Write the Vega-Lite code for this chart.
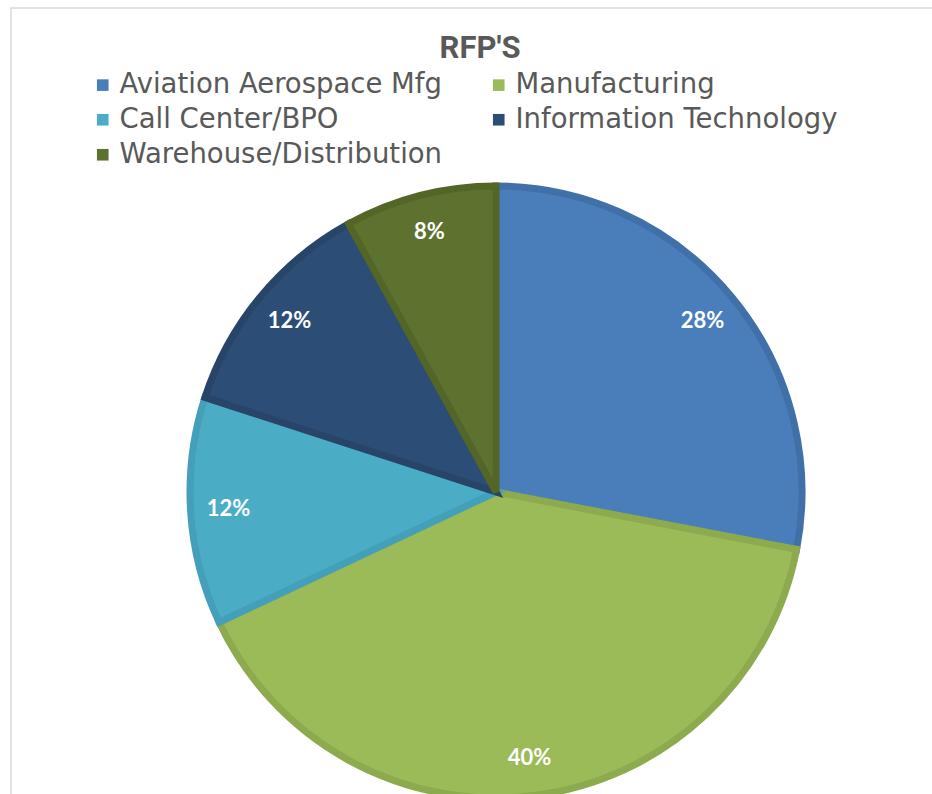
{
  "$schema": "https://vega.github.io/schema/vega-lite/v6.json",
  "autosize": "none",
  "padding": {"left": 11, "top": 8, "right": 0, "bottom": 0},
  "width": 970,
  "height": 968,
  "background": "white",
  "view": {"stroke": "#d9d9d9", "strokeWidth": 1.5},
  "title": {
    "text": "RFP'S",
    "font": "Roboto",
    "fontSize": 31,
    "fontWeight": "bold",
    "color": "#595959",
    "anchor": "middle",
    "frame": "group",
    "baseline": "middle",
    "offset": -39,
    "dx": -16,
    "dy": 33
  },
  "data": {
    "values": [
      {"category": "Aviation Aerospace Mfg", "share": 0.28, "pos": 1},
      {"category": "Manufacturing", "share": 0.40, "pos": 2},
      {"category": "Call Center/BPO", "share": 0.12, "pos": 3},
      {"category": "Information Technology", "share": 0.12, "pos": 4},
      {"category": "Warehouse/Distribution", "share": 0.08, "pos": 5}
    ]
  },
  "encoding": {
    "theta": {"field": "share", "type": "quantitative", "stack": true},
    "order": {"field": "pos", "type": "quantitative"}
  },
  "layer": [
    {
      "mark": {"type": "arc", "outerRadius": 306, "strokeWidth": 7, "strokeJoin": "miter"},
      "encoding": {
        "color": {
          "field": "category",
          "type": "nominal",
          "sort": null,
          "scale": {
            "domain": ["Aviation Aerospace Mfg", "Manufacturing", "Call Center/BPO", "Information Technology", "Warehouse/Distribution"],
            "range": ["#4A7EBB", "#9BBB59", "#4BACC6", "#2C4D75", "#5E7230"]
          },
          "legend": {
            "title": null,
            "orient": "none",
            "legendX": 78,
            "legendY": 63,
            "direction": "horizontal",
            "columns": 2,
            "columnPadding": 42,
            "rowPadding": 6,
            "padding": 0,
            "symbolType": "square",
            "symbolSize": 135,
            "symbolStrokeWidth": 0,
            "labelFont": "DejaVu Sans",
            "labelFontSize": 27.5,
            "labelColor": "#595959",
            "labelOffset": 3,
            "labelLimit": 500
          }
        },
        "stroke": {
          "field": "category",
          "type": "nominal",
          "sort": null,
          "scale": {
            "domain": ["Aviation Aerospace Mfg", "Manufacturing", "Call Center/BPO", "Information Technology", "Warehouse/Distribution"],
            "range": ["#4170A8", "#8DAA4F", "#44A0BA", "#284569", "#536628"]
          },
          "legend": null
        }
      }
    },
    {
      "mark": {"type": "text", "radius": 268, "font": "Lato", "fontSize": 22, "fontWeight": "bold", "fill": "white"},
      "encoding": {
        "text": {"field": "share", "type": "quantitative", "format": ".0%"}
      }
    }
  ]
}
